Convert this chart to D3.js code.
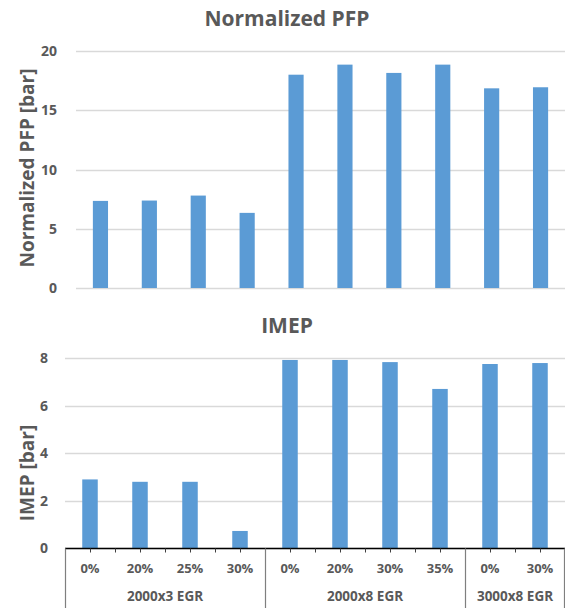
<!DOCTYPE html>
<html>
<head>
<meta charset="utf-8">
<script src="https://cdn.jsdelivr.net/npm/d3@7"></script>
<style>
  body { margin: 0; background: #fff; }
  text { font-family: "Open Sans", Lato, sans-serif; font-weight: bold; fill: #595959; }
</style>
</head>
<body>
<div id="chart"></div>
<script>
(function() {
    'use strict';

    const width = 565, height = 608;

    // categories (EGR rates) and their groups
    const egrLabels = ['0%', '20%', '25%', '30%', '0%', '20%', '30%', '35%', '0%', '30%'];
    const groups = [
        {name: '2000x3 EGR', count: 4},
        {name: '2000x8 EGR', count: 4},
        {name: '3000x8 EGR', count: 2}
    ];
    const pfpValues = [7.35, 7.38, 7.8, 6.34, 18.0, 18.85, 18.15, 18.85, 16.85, 16.94];
    const imepValues = [2.9, 2.8, 2.8, 0.73, 7.93, 7.93, 7.84, 6.71, 7.76, 7.8];
    const pfpTicks = [0, 5, 10, 15, 20];
    const imepTicks = [0, 2, 4, 6, 8];

    const barColor = '#5b9bd5',
        gridColor = '#d9d9d9';

    const idx = egrLabels.map((d, i) => i);

    const svg = d3.select('#chart').append('svg')
        .attr('width', width)
        .attr('height', height);

    function panel(opts) {
        const x = d3.scaleBand()
            .domain(idx)
            .range([opts.left, width])
            .paddingInner(0.69)
            .paddingOuter(0.345);

        const y = d3.scaleLinear()
            .domain([0, opts.max])
            .range([opts.bottom, opts.top]);

        const g = svg.append('g');

        // gridlines
        g.append('g')
            .selectAll('line')
            .data(opts.ticks)
            .join('line')
            .attr('x1', opts.left)
            .attr('x2', width)
            .attr('y1', (d) => Math.round(y(d)) + 0.5)
            .attr('y2', (d) => Math.round(y(d)) + 0.5)
            .attr('stroke', gridColor)
            .attr('stroke-width', 1.3);

        // tick labels
        g.append('g')
            .selectAll('text')
            .data(opts.ticks)
            .join('text')
            .attr('x', opts.labelX)
            .attr('y', (d) => y(d))
            .attr('dy', '0.36em')
            .attr('text-anchor', 'end')
            .style('font-size', '14px')
            .text((d) => d);

        // bars
        g.append('g')
            .selectAll('rect')
            .data(opts.values)
            .join('rect')
            .attr('x', (d, i) => x(i))
            .attr('width', x.bandwidth())
            .attr('y', (d) => y(d))
            .attr('height', (d) => y(0) - y(d))
            .attr('fill', barColor);

        // title
        g.append('text')
            .attr('x', 287)
            .attr('y', opts.titleY)
            .attr('text-anchor', 'middle')
            .style('font-size', '21px')
            .text(opts.title);

        // y axis label
        g.append('text')
            .attr('transform', 'translate(27,' + opts.ylabelY + ') rotate(-90)')
            .attr('dy', '0.36em')
            .attr('text-anchor', 'middle')
            .style('font-size', '19px')
            .text(opts.ylabel);

        return {x: x, y: y};
    }

    panel({
        title: 'Normalized PFP',
        ylabel: 'Normalized PFP [bar]',
        values: pfpValues,
        ticks: pfpTicks,
        max: 20,
        left: 76,
        top: 51,
        bottom: 288,
        labelX: 57,
        titleY: 26,
        ylabelY: 168
    });

    const bottom = panel({
        title: 'IMEP',
        ylabel: 'IMEP [bar]',
        values: imepValues,
        ticks: imepTicks,
        max: 8,
        left: 65,
        top: 358.3,
        bottom: 548.3,
        labelX: 48,
        titleY: 333,
        ylabelY: 473
    });

    // two-level category axis under the IMEP chart
    const x = bottom.x, axisY = 548.5;
    const step = x.step();
    const x0 = x.range()[0];

    const ax = svg.append('g');

    ax.append('line')
        .attr('x1', x0)
        .attr('x2', width)
        .attr('y1', axisY)
        .attr('y2', axisY)
        .attr('stroke', '#000')
        .attr('stroke-width', 1.3);

    // small ticks at category edges and centres
    const tickPos = d3.range(0, egrLabels.length * 2 + 1).map((k) => x0 + k * step / 2);
    ax.append('g')
        .selectAll('line')
        .data(tickPos)
        .join('line')
        .attr('x1', (d) => Math.round(d) + 0.5)
        .attr('x2', (d) => Math.round(d) + 0.5)
        .attr('y1', axisY)
        .attr('y2', axisY + 4)
        .attr('stroke', '#404040');

    ax.append('g')
        .selectAll('text')
        .data(egrLabels)
        .join('text')
        .attr('x', (d, i) => x(i) + x.bandwidth() / 2)
        .attr('y', 568)
        .attr('dy', '0.36em')
        .attr('text-anchor', 'middle')
        .style('font-size', '13px')
        .text((d) => d);

    // group dividers and names
    let start = 0;
    const bounds = [0];
    groups.forEach((grp) => {
        grp.start = start;
        start += grp.count;
        bounds.push(start);
    });

    ax.append('g')
        .selectAll('line')
        .data(bounds)
        .join('line')
        .attr('x1', (d) => Math.min(Math.round(x0 + d * step) + 0.5, width - 0.5))
        .attr('x2', (d) => Math.min(Math.round(x0 + d * step) + 0.5, width - 0.5))
        .attr('y1', axisY)
        .attr('y2', height)
        .attr('stroke', '#7f7f7f')
        .attr('stroke-width', 1.2);

    ax.append('g')
        .selectAll('text')
        .data(groups)
        .join('text')
        .attr('x', (d) => x0 + (d.start + d.count / 2) * step)
        .attr('y', 596.5)
        .attr('dy', '0.36em')
        .attr('text-anchor', 'middle')
        .style('font-size', '13.5px')
        .text((d) => d.name);

})();
</script>
</body>
</html>
